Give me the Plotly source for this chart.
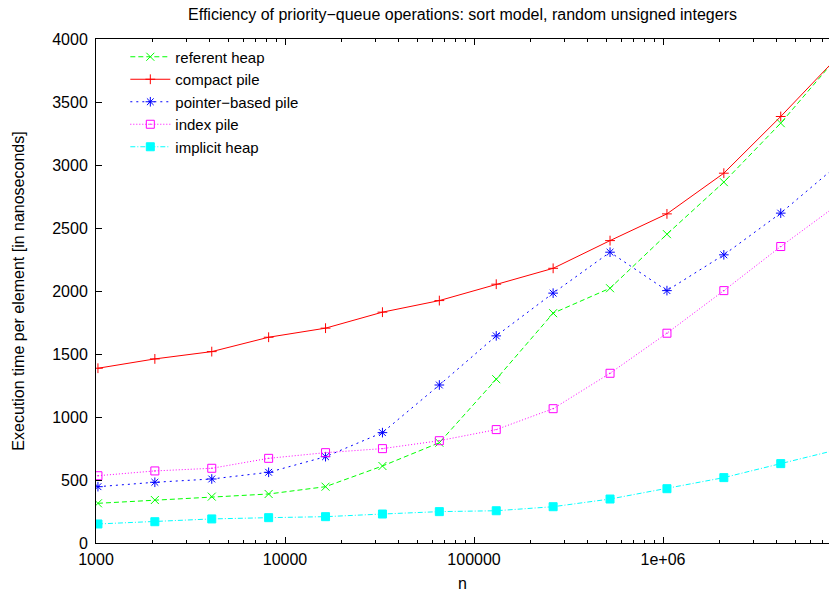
import plotly.graph_objects as go

# Problem sizes: powers of two from 2^10 to 2^23
n_values = [2 ** k for k in range(10, 24)]

# Execution time per element, in nanoseconds
referent_heap = [315, 341, 368, 389, 447, 611, 796, 1300, 1824, 2022, 2451, 2864, 3332, 3860]
compact_pile = [1387, 1461, 1519, 1633, 1705, 1832, 1924, 2054, 2180, 2400, 2612, 2935, 3385, 3858]
pointer_based_pile = [447, 482, 508, 561, 685, 876, 1254, 1644, 1983, 2308, 2003, 2287, 2618, 3000]
index_pile = [534, 572, 593, 672, 717, 749, 812, 900, 1066, 1347, 1665, 2003, 2353, 2685]
implicit_heap = [151, 169, 191, 201, 209, 230, 249, 256, 288, 349, 431, 519, 630, 741]

x_tick_values = [1000, 10000, 100000, 1000000]
x_tick_labels = ["1000", "10000", "100000", "1e+06"]
y_tick_values = [0, 500, 1000, 1500, 2000, 2500, 3000, 3500, 4000]

FONT = "Liberation Sans, Arial, Helvetica, sans-serif"
FS = 16

series = [
    ("referent heap", referent_heap, "#00ff00", "5px,3px", "x-thin-open", 8),
    ("compact pile", compact_pile, "#ff0000", "solid", "cross-thin-open", 7),
    ("pointer\u2212based pile", pointer_based_pile, "#0000ff", "2px,4px", "asterisk-open", 8),
    ("index pile", index_pile, "#ff00ff", "1px,2px", "square-open-dot", 8),
    ("implicit heap", implicit_heap, "#00ffff", "5px,2px,1px,2px", "square", 8),
]

fig = go.Figure()
for name, values, color, dash, symbol, size in series:
    fig.add_trace(go.Scatter(
        x=n_values,
        y=values,
        name=name,
        mode="lines+markers",
        line=dict(color=color, width=1, dash=dash),
        marker=dict(symbol=symbol, size=size, color=color,
                    line=dict(color=color, width=1)),
        cliponaxis=True,
    ))

minor_x = [m * 10 ** e for e in range(3, 7) for m in range(2, 10)]

fig.update_layout(
    width=829,
    height=592,
    margin=dict(l=96, r=0, t=39, b=49),
    paper_bgcolor="white",
    plot_bgcolor="white",
    font=dict(family=FONT, size=FS, color="black"),
    title=dict(
        text="Efficiency of priority\u2212queue operations: sort model, random unsigned integers",
        x=0.5, xref="paper", xanchor="center",
        y=1 - 14 / 592, yref="container", yanchor="middle",
        font=dict(family=FONT, size=FS, color="black"),
    ),
    showlegend=True,
    legend=dict(
        x=0.04, y=0.997, xanchor="left", yanchor="top",
        bgcolor="rgba(0,0,0,0)",
        font=dict(family=FONT, size=15, color="black"),
        itemwidth=40,
        tracegroupgap=0,
    ),
    xaxis=dict(
        type="log",
        range=[3, 6.878],
        tickmode="array",
        tickvals=x_tick_values,
        ticktext=x_tick_labels,
        ticks="inside",
        ticklen=6,
        tickcolor="black",
        showline=True,
        linecolor="black",
        linewidth=1,
        mirror="ticks",
        showgrid=False,
        zeroline=False,
        ticklabelstandoff=2,
        minor=dict(tickmode="array", tickvals=minor_x, ticks="inside",
                   ticklen=3, tickcolor="black", showgrid=False),
        title=dict(text="n", standoff=14, font=dict(family=FONT, size=FS)),
        tickfont=dict(family=FONT, size=FS),
    ),
    yaxis=dict(
        range=[0, 4000],
        tickmode="array",
        tickvals=y_tick_values,
        ticks="inside",
        ticklen=6,
        tickcolor="black",
        showline=True,
        linecolor="black",
        linewidth=1,
        mirror=False,
        showgrid=False,
        zeroline=False,
        ticklabelstandoff=4,
        title=dict(text="Execution time per element [in nanoseconds]", standoff=23,
                   font=dict(family=FONT, size=FS)),
        tickfont=dict(family=FONT, size=FS),
    ),
)

fig.write_html("out.html")
